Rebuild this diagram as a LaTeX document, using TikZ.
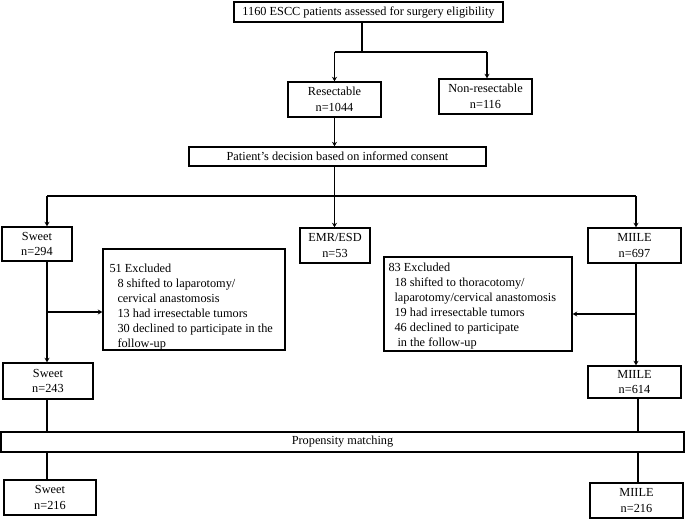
\documentclass[tikz,border=0pt]{standalone}
\usepackage{fontspec}
\setmainfont{Liberation Serif}
\usetikzlibrary{arrows.meta,calc}
\begin{document}
\begin{tikzpicture}[x=1pt,y=-1pt,
  box/.style={draw,line width=1.4pt,inner sep=0pt,align=center,font=\fontsize{12.3}{15.5}\selectfont},
  frame/.style={draw,line width=1.4pt,inner sep=0pt},
  txt/.style={inner sep=0pt,align=left,anchor=north west,font=\fontsize{12.3}{15}\selectfont},
  conn/.style={line width=1.4pt},
  arr/.style={line width=1.4pt,-{Stealth[length=4.5pt,width=5pt]}}]
\useasboundingbox (0,0) rectangle (685,519);
\node[box,minimum width=269pt,minimum height=20pt] (top) at (368.5,12) {1160 ESCC patients assessed for surgery eligibility};
\node[box,minimum width=93pt,minimum height=35pt] (res) at (334.5,99.5) {Resectable\\n=1044};
\node[box,minimum width=93pt,minimum height=35pt] (nonres) at (485.5,96.5) {Non-resectable\\n=116};
\node[box,minimum width=297pt,minimum height=19pt] (pat) at (337.5,156.5) {Patient’s decision based on informed consent};
\node[box,minimum width=70pt,minimum height=34pt] (sweet1) at (37,244) {Sweet\\n=294};
\node[box,minimum width=70pt,minimum height=35pt] (emr) at (335,245.5) {EMR/ESD\\n=53};
\node[box,minimum width=93pt,minimum height=35pt] (miile1) at (634.5,245.5) {MIILE\\n=697};
\node[frame,minimum width=182pt,minimum height=101pt] (exc1) at (194,299.5) {};
\node[txt] (exc1t) at ($(exc1.north west)+(7,15)$) {51 Excluded\\
\hspace*{8pt}8 shifted to laparotomy/\\
\hspace*{8pt}cervical anastomosis\\
\hspace*{8pt}13 had irresectable tumors\\
\hspace*{8pt}30 declined to participate in the\\
\hspace*{8pt}follow-up};
\node[frame,minimum width=188pt,minimum height=94pt] (exc2) at (478,304) {};
\node[txt] (exc2t) at ($(exc2.north west)+(5,6)$) {83 Excluded\\
\hspace*{6pt}18 shifted to thoracotomy/\\
\hspace*{6pt}laparotomy/cervical anastomosis\\
\hspace*{6pt}19 had irresectable tumors\\
\hspace*{6pt}46 declined to participate\\
\hspace*{9pt}in the follow-up};
\node[box,minimum width=90pt,minimum height=36pt] (sweet2) at (48,381) {Sweet\\n=243};
\node[box,minimum width=93pt,minimum height=32pt] (miile2) at (634.5,382) {MIILE\\n=614};
\node[box,minimum width=683pt,minimum height=20pt] (prop) at (342.5,442) {Propensity matching};
\node[box,minimum width=92pt,minimum height=35pt] (sweet3) at (50,497.5) {Sweet\\n=216};
\node[box,minimum width=93pt,minimum height=35pt] (miile3) at (636.5,500.5) {MIILE\\n=216};
% top branching
\coordinate (b1) at (362,52);
\coordinate (b1l) at (334.5,52);
\coordinate (b1r) at (487,52);
\draw[conn] (top.south -| b1) -- (b1);
\draw[conn] (b1l) -- (b1r);
\draw[arr] (b1l) -- (b1l |- res.north);
\draw[arr] (b1r) -- (b1r |- nonres.north);
\draw[arr] (res.south) -- (res.south |- pat.north);
% second branching
\coordinate (b2) at (334.5,196);
\coordinate (sx) at (47,196);
\coordinate (mx) at (636,196);
\draw[conn] (pat.south -| b2) -- (b2);
\draw[conn] (sx) -- (mx);
\draw[arr] (sx) -- (sx |- sweet1.north);
\draw[arr] (b2) -- (b2 |- emr.north);
\draw[arr] (mx) -- (mx |- miile1.north);
% Sweet column
\coordinate (sb) at (47,312);
\draw[arr] (sx |- sweet1.south) -- (sx |- sweet2.north);
\draw[arr] (sb) -- (sb -| exc1.west);
% MIILE column
\coordinate (mb) at (636,314);
\draw[arr] (mx |- miile1.south) -- (mx |- miile2.north);
\draw[arr] (mb) -- (mb -| exc2.east);
% propensity
\coordinate (ps) at (47,0);
\coordinate (pm) at (638,0);
\draw[conn] (ps |- sweet2.south) -- (ps |- prop.north);
\draw[conn] (ps |- prop.south) -- (ps |- sweet3.north);
\draw[conn] (pm |- miile2.south) -- (pm |- prop.north);
\draw[conn] (pm |- prop.south) -- (pm |- miile3.north);
\end{tikzpicture}
\end{document}
